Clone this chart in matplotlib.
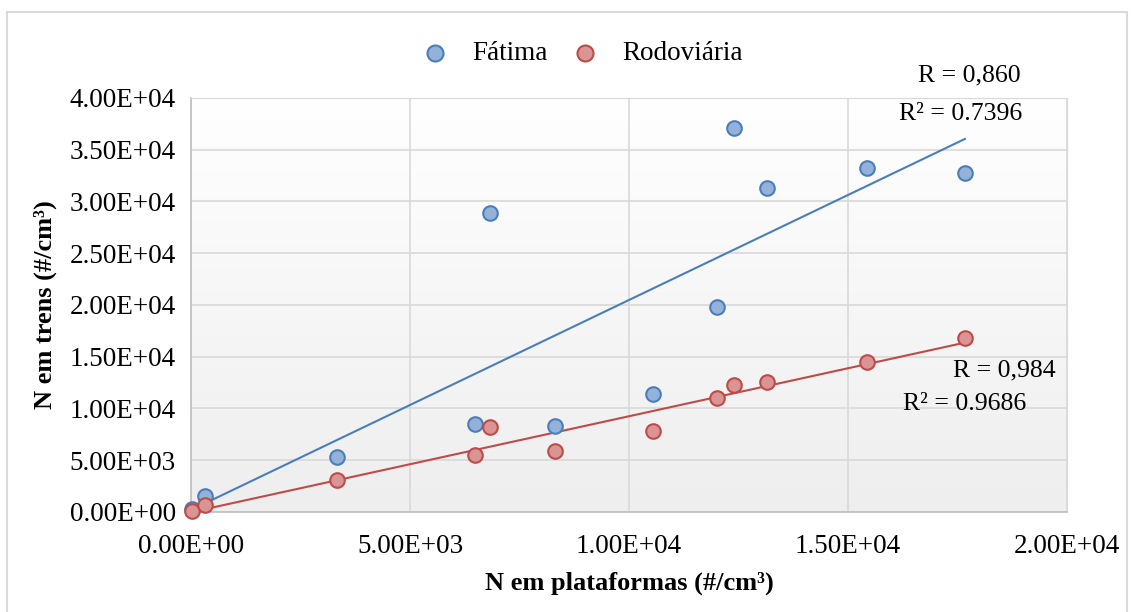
import numpy as np
import matplotlib.pyplot as plt
from matplotlib.colors import LinearSegmentedColormap

plt.rcParams['font.family'] = ['Liberation Serif', 'DejaVu Serif']

# data
x_plat = [30, 320, 3330, 6480, 6820, 8310, 10550, 12010, 12400, 13150, 15430, 17670]
y_fatima = [300, 1500, 5300, 8500, 28900, 8300, 11400, 19800, 37100, 31300, 33200, 32800]
y_rodov = [100, 700, 3100, 5500, 8200, 5900, 7800, 11000, 12300, 12600, 14500, 16800]

x_ticks = [0, 5000, 10000, 15000, 20000]
y_ticks = [0, 5000, 10000, 15000, 20000, 25000, 30000, 35000, 40000]

blue_edge, blue_fill = "#4a7ebb", "#94b2d9"
red_edge, red_fill = "#be4b48", "#d99593"

fig = plt.figure(figsize=(11.31, 6.12), dpi=100)
ax = fig.add_axes([0.1689, 0.1634, 0.7745, 0.6765])

# soft vertical gradient in the plot area
grad = np.linspace(0, 1, 256).reshape(-1, 1)
cmap = LinearSegmentedColormap.from_list("bg", ["#ffffff", "#eeeeee"])
ax.imshow(grad, aspect="auto", cmap=cmap, extent=[0, 1, 0, 1],
          transform=ax.transAxes, zorder=0, origin="upper")

x = np.array(x_plat, dtype=float)
xs = np.array([min(x_plat), max(x_plat)], dtype=float)
for ys, edge, fill, name in [(y_fatima, blue_edge, blue_fill, "Fátima"),
                             (y_rodov, red_edge, red_fill, "Rodoviária")]:
    y = np.array(ys, dtype=float)
    k, b = np.polyfit(x, y, 1)
    ax.plot(xs, k * xs + b, color=edge, lw=1.5, zorder=3)
    ax.scatter(x, y, s=110, facecolor=fill, edgecolor=edge, linewidth=1.5,
               zorder=4, label=name, clip_on=False)

ax.set_xlim(0, 20000)
ax.set_ylim(0, 40000)
ax.set_xticks(x_ticks)
ax.set_yticks(y_ticks)
ax.set_xticklabels([f"{v:.2E}" for v in x_ticks])
ax.set_yticklabels([f"{v:.2E}" for v in y_ticks])
ax.tick_params(labelsize=19.5, length=0)
ax.tick_params(axis="x", pad=16)
ax.tick_params(axis="y", pad=11)
ax.grid(True, color="#d9d9d9", lw=1.2)
ax.set_axisbelow(True)
for side in ["top", "right"]:
    ax.spines[side].set_color("#d9d9d9")
for side in ["left", "bottom"]:
    ax.spines[side].set_color("#bfbfbf")
    ax.spines[side].set_linewidth(1.2)

ax.set_xlabel("N em plataformas (#/cm³)", fontsize=19, fontweight="bold", labelpad=9)
ax.set_ylabel("N em trens (#/cm³)", fontsize=19, fontweight="bold", labelpad=9)

fig.legend(loc="center", bbox_to_anchor=(0.5148, 0.912), ncol=2, frameon=False,
           fontsize=19.5, handlelength=1.0, handletextpad=0.87, columnspacing=0.9,
           markerscale=1.1)

ax.text(17760, 42220, "R = 0,860", fontsize=18.5, ha="center", va="center", clip_on=False)
ax.text(17580, 38450, "R² = 0.7396", fontsize=18.5, ha="center", va="center")
ax.text(18580, 13720, "R = 0,984", fontsize=18.5, ha="center", va="center")
ax.text(17670, 10430, "R² = 0.9686", fontsize=18.5, ha="center", va="center")

# light frame around the whole figure
fig.patches.append(plt.Rectangle((0.0062, -0.01), 0.9903, 0.99, transform=fig.transFigure,
                                 fill=False, edgecolor="#d9d9d9", lw=1.5))

fig.savefig("out.png", dpi=100)
